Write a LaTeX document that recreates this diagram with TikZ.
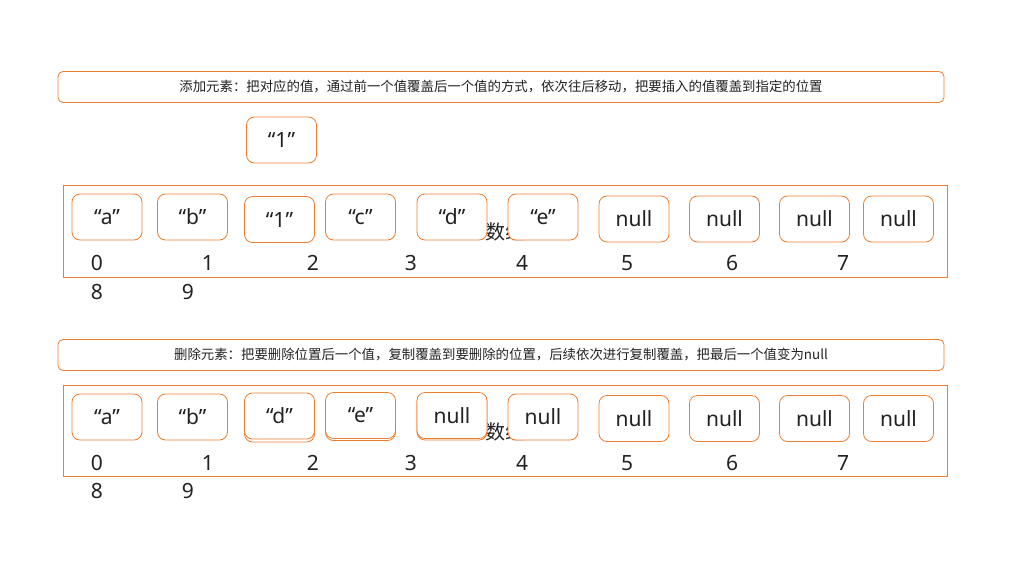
\documentclass[tikz,border=0pt]{standalone}
\usepackage{fontspec}
\setmainfont{Noto Sans}
\newfontfamily\cjk{Noto Sans CJK SC}
\definecolor{boxorange}{HTML}{ED7D31}
\definecolor{ink}{HTML}{222222}

\begin{document}
\begin{tikzpicture}[x=1pt,y=-1pt,
  cell/.style={draw=boxorange,fill=white,rounded corners=8pt,line width=0.8pt,
    minimum width=70,minimum height=46,inner sep=0pt,text=ink,font=\fontsize{21}{24}\selectfont},
  note/.style={draw=boxorange,rounded corners=5pt,line width=0.8pt,
    minimum width=886,minimum height=31,inner sep=0pt,text=ink,font=\cjk\fontsize{13.4}{15}\selectfont},
  frame/.style={draw=boxorange,line width=0.8pt},
  idx/.style={text=ink,font=\fontsize{21}{24}\selectfont,inner sep=0pt}]
\useasboundingbox[fill=white] (0,0) rectangle (1030,574);

% insert
\node[note] (addnote) at (501,87) {添加元素：把对应的值，通过前一个值覆盖后一个值的方式，依次往后移动，把要插入的值覆盖到指定的位置};
\node[cell] (newval) at (281.5,140) {“1”};
\draw[frame] (63,185) rectangle (947,277);
\node[idx,font=\cjk\fontsize{20}{24}\selectfont] (arrA) at (505,232) {数组};
\node[cell] (a0) at (107,217) {“a”};
\node[cell] (a1) at (192.5,217) {“b”};
\node[cell] (a2) at (279.5,219.5) {“1”};
\node[cell] (a3) at (360.5,217) {“c”};
\node[cell] (a4) at (452,217) {“d”};
\node[cell] (a5) at (543,217) {“e”};
\node[cell] (a6) at (634,219) {null};
\node[cell] (a7) at (724.5,219) {null};
\node[cell] (a8) at (814.5,219) {null};
\node[cell] (a9) at (898.5,219) {null};
\foreach \i/\x/\y in {0/97/263,1/208/263,2/313/263,3/411/263,4/522/263,5/627/263,6/732/263,7/843/263,8/97/292,9/188/292}
  \node[idx] (ia\i) at (\x,\y) {\i};

% delete
\node[note] (delnote) at (501,355) {删除元素：把要删除位置后一个值，复制覆盖到要删除的位置，后续依次进行复制覆盖，把最后一个值变为null};
\draw[frame] (63,385) rectangle (947,476);
\node[idx,font=\cjk\fontsize{20}{24}\selectfont] (arrB) at (505,432) {数组};
\node[cell] (b0) at (107,417) {“a”};
\node[cell] (b1) at (192.5,417) {“b”};
\node[cell] (b2old) at (279.5,419) {};
\node[cell] (b2) at (279.5,416) {“d”};
\node[cell] (b3old) at (360.5,417.5) {};
\node[cell] (b3) at (360.5,415.5) {“e”};
\node[cell] (b4old) at (452,417) {};
\node[cell] (b4) at (452,415.5) {null};
\node[cell] (b5) at (543,417) {null};
\node[cell] (b6) at (634,418.5) {null};
\node[cell] (b7) at (724.5,418.5) {null};
\node[cell] (b8) at (814.5,418.5) {null};
\node[cell] (b9) at (898.5,418.5) {null};
\foreach \i/\x/\y in {0/97/463,1/208/463,2/313/463,3/411/463,4/522/463,5/627/463,6/732/463,7/843/463,8/97/491,9/188/491}
  \node[idx] (ib\i) at (\x,\y) {\i};
\end{tikzpicture}
\end{document}
